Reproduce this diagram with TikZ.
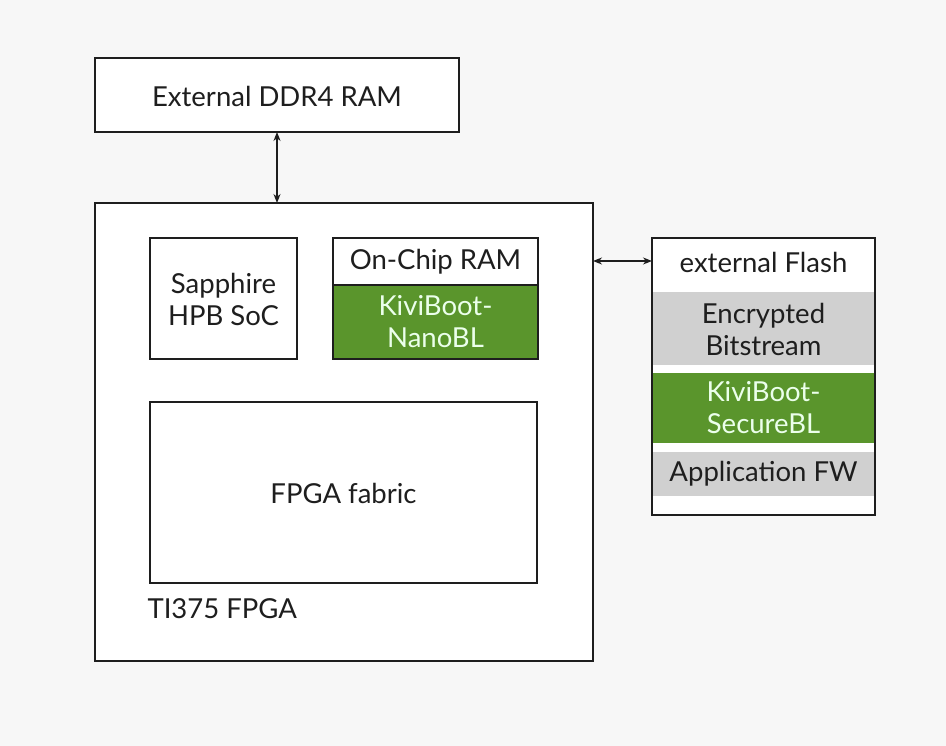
\documentclass[tikz,border=0pt]{standalone}
\usepackage{fontspec}
\setmainfont{Lato}
\usetikzlibrary{arrows.meta}
\definecolor{grn}{HTML}{5A952C}
\definecolor{gry}{HTML}{D0D0D0}
\definecolor{ink}{HTML}{1E1E1E}
\begin{document}
\begin{tikzpicture}[x=1pt,y=-1pt,
  box/.style={draw=ink,line width=1.4pt},
  txt/.style={font=\fontsize{27.5}{32}\selectfont,text=ink,align=center},
  wtxt/.style={font=\fontsize{27.5}{32}\selectfont,text=green!8,align=center},
  arr/.style={{Stealth[length=9pt,width=7pt]}-{Stealth[length=9pt,width=7pt]},draw=ink,line width=1.4pt}]
\fill[white!97!black] (0,0) rectangle (946,746);
\useasboundingbox (0,0) rectangle (946,746);
% DDR4
\draw[box,fill=white] (95,58) rectangle (459,132);
\node[txt] (ddr) at (277,96) {External DDR4 RAM};
% FPGA
\draw[box,fill=white] (95,203) rectangle (593,661);
\node[txt,anchor=west] (ti) at (144,609) {TI375 FPGA};
\draw[box] (150,238) rectangle (297,359);
\node[txt] (soc) at (223.5,299) {Sapphire\\HPB SoC};
\fill[grn] (333,285) rectangle (538,359);
\draw[box] (333,238) rectangle (538,359);
\draw[box] (333,285) -- (538,285);
\node[txt] (ocr) at (435.5,262) {On-Chip RAM};
\node[wtxt] (nano) at (435.5,322) {KiviBoot-\\NanoBL};
\draw[box] (150,402) rectangle (537,583);
\node[txt] (fab) at (343.5,493) {FPGA fabric};
% Flash
\draw[box,fill=white] (652,238) rectangle (875,515);
\node[txt] (fl) at (763.5,262) {external Flash};
\fill[gry] (652.5,292) rectangle (874.5,365);
\node[txt] (enc) at (763.5,329) {Encrypted\\Bitstream};
\fill[grn] (652.5,373) rectangle (874.5,443);
\node[wtxt] (sec) at (763.5,408) {KiviBoot-\\SecureBL};
\fill[gry] (652.5,452) rectangle (874.5,496);
\node[txt] (app) at (763.5,474) {Application FW};
\draw[box] (652,238) rectangle (875,515);
% arrows
\coordinate (a1) at (277,132);
\coordinate (a2) at (277,203);
\draw[arr] (a1) -- (a2);
\coordinate (b1) at (593,261);
\coordinate (b2) at (652,261);
\draw[arr] (b1) -- (b2);
\end{tikzpicture}
\end{document}
